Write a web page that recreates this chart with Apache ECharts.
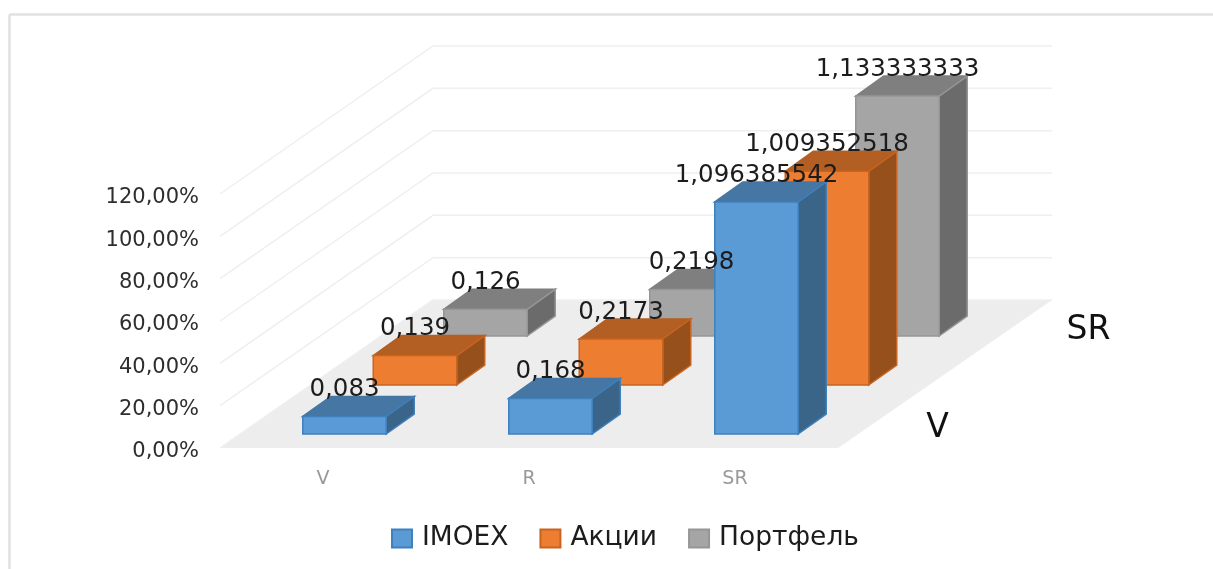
<!DOCTYPE html>
<html><head><meta charset="utf-8">
<style>html,body{margin:0;padding:0;background:#fff}#c{width:1213px;height:569px}</style>
<script src="https://cdn.jsdelivr.net/npm/echarts@6/dist/echarts.min.js"></script>
</head><body><div id="c"></div>
<script>
const categories = ['V', 'R', 'SR'];
const seriesNames = ['IMOEX', 'Акции', 'Портфель'];
const imoex = [0.083, 0.168, 1.096385542];
const akcii = [0.139, 0.2173, 1.009352518];
const portfel = [0.126, 0.2198, 1.133333333];
const valueTicks = [0, 0.2, 0.4, 0.6, 0.8, 1, 1.2];
const depthLabels = ['V', 'SR'];

const FONT = '"DejaVu Sans"';
const DEPTH = [213, -148], ROW = [70.5, -49], BAR_D = [28, -20];
const BAR_W = 83.5, ROW0 = [21.5, -14];
const palette = [
  {front:'#5b9bd5', top:'#4676a3', side:'#3a6589', line:'#3f80bd'},
  {front:'#ed7d31', top:'#b35e22', side:'#96501c', line:'#c8641f'},
  {front:'#a5a5a5', top:'#7f7f7f', side:'#6b6b6b', line:'#969696'}
];
const poly = (pts, fill, stroke, z2) => ({type:'polygon', z2, silent:true,
  shape:{points:pts}, style:{fill, stroke, lineWidth:1.5}});

function barRenderer(row) {
  const c = palette[row];
  return function (params, api) {
    const cat = api.value(0), val = api.value(1);
    const base = api.coord([cat, 0]), head = api.coord([cat, val]);
    const xl = base[0] + ROW0[0] + ROW[0]*row - BAR_W/2, xr = xl + BAR_W;
    const yb = base[1] + ROW0[1] + ROW[1]*row;
    const yt = yb - (base[1] - head[1]);
    const dx = BAR_D[0], dy = BAR_D[1], z = (2-row)*10 + cat;
    return {type:'group', children:[
      poly([[xl,yt],[xl+dx,yt+dy],[xr+dx,yt+dy],[xr,yt]], c.top, c.top, z),
      poly([[xr,yb],[xr+dx,yb+dy],[xr+dx,yt+dy],[xr,yt]], c.side, c.line, z),
      poly([[xl,yb],[xr,yb],[xr,yt],[xl,yt]], c.front, c.line, z),
      {type:'text', z2:100, silent:true, style:{
        text:String(val).replace('.', ','), x:(xl+xr)/2, y:yt-26.5,
        align:'center', verticalAlign:'middle',
        font:'24.5px '+FONT, fill:'#1c1c1c'}}
    ]};
  };
}
const rows = [imoex, akcii, portfel];
const barSeries = seriesNames.map((name,row)=>({
  name, type:'custom', coordinateSystem:'cartesian2d', clip:false, z:3,
  itemStyle:{color:palette[row].front, borderColor:palette[row].line, borderWidth:2},
  encode:{x:0,y:1}, renderItem:barRenderer(row),
  data:categories.map((c,i)=>[i,rows[row][i]])
}));
const floorSeries = {
  type:'custom', coordinateSystem:'cartesian2d', clip:false, z:1, silent:true,
  encode:{x:0,y:1}, data:[[0,0]],
  renderItem(params, api){
    const a = api.coord([0,0]), w = api.size([1,0])[0]*3;
    const left = a[0]-w/6, y0 = a[1];
    return {type:'polygon', silent:true, shape:{points:[
      [left,y0],[left+w,y0],[left+w+DEPTH[0]+1,y0+DEPTH[1]],[left+DEPTH[0]-1,y0+DEPTH[1]]
    ]}, style:{fill:'#ededed'}};
  }
};
const gridSeries = {
  type:'custom', coordinateSystem:'cartesian2d', clip:false, z:2, silent:true,
  encode:{x:0,y:1}, data:valueTicks.map(v=>[0,v]),
  renderItem(params, api){
    const a = api.coord([0,api.value(1)]), w = api.size([1,0])[0]*3;
    const left = a[0]-w/6, y = a[1];
    return {type:'polyline', silent:true, shape:{points:[
      [left,y],[left+DEPTH[0],y+DEPTH[1]],[left+w+DEPTH[0]+1,y+DEPTH[1]]
    ]}, style:{stroke:'#efefef', lineWidth:1.5, fill:null}};
  }
};
const depthSeries = {
  type:'custom', coordinateSystem:'cartesian2d', clip:false, z:2, silent:true,
  encode:{x:0,y:1}, data:depthLabels.map((t,i)=>[0,0,i]),
  renderItem(params, api){
    const a = api.coord([0,0]), w = api.size([1,0])[0]*3, i = api.value(2);
    const left = a[0]-w/6;
    const r = i===0 ? 0 : 2;
    return {type:'text', silent:true, style:{
      text:depthLabels[i], x:left+w+ROW0[0]+ROW[0]*r+78+5*r, y:a[1]+ROW0[1]+ROW[1]*r-6,
      align:'center', verticalAlign:'middle', font:'33px '+FONT, fill:'#111'}};
  }
};

const chart = echarts.init(document.getElementById('c'), null, {renderer:'canvas'});
chart.setOption({
  animation:false, backgroundColor:'#fff',
  grid:{left:220, width:618, top:194, height:254},
  xAxis:{type:'category', data:categories, boundaryGap:true,
    axisLine:{show:false}, axisTick:{show:false}, splitLine:{show:false},
    axisLabel:{margin:22, color:'#999999', fontFamily:FONT, fontSize:19}},
  yAxis:{type:'value', min:0, max:1.2, interval:0.2,
    axisLine:{show:false}, axisTick:{show:false}, splitLine:{show:false},
    axisLabel:{margin:21, color:'#2e2e2e', fontFamily:FONT, fontSize:21, verticalAlign:'top', lineHeight:8,
      formatter:v=>(v*100).toFixed(2).replace('.',',')+'%'}},
  legend:{data:seriesNames, left:391, top:525, padding:0, icon:'rect', itemWidth:20, itemHeight:18,
    itemGap:31, textStyle:{fontFamily:FONT, fontSize:26.5, color:'#1c1c1c', padding:[0,0,0,5]}},
  graphic:[
    {type:'line', silent:true, shape:{x1:9.5,y1:14.5,x2:1213,y2:14.5}, style:{stroke:'#e0e0e0',lineWidth:2.5}},
    {type:'line', silent:true, shape:{x1:9.5,y1:14.5,x2:9.5,y2:569}, style:{stroke:'#e0e0e0',lineWidth:2.5}}
  ],
  series:[floorSeries, gridSeries, depthSeries, ...barSeries]
});
</script></body></html>
